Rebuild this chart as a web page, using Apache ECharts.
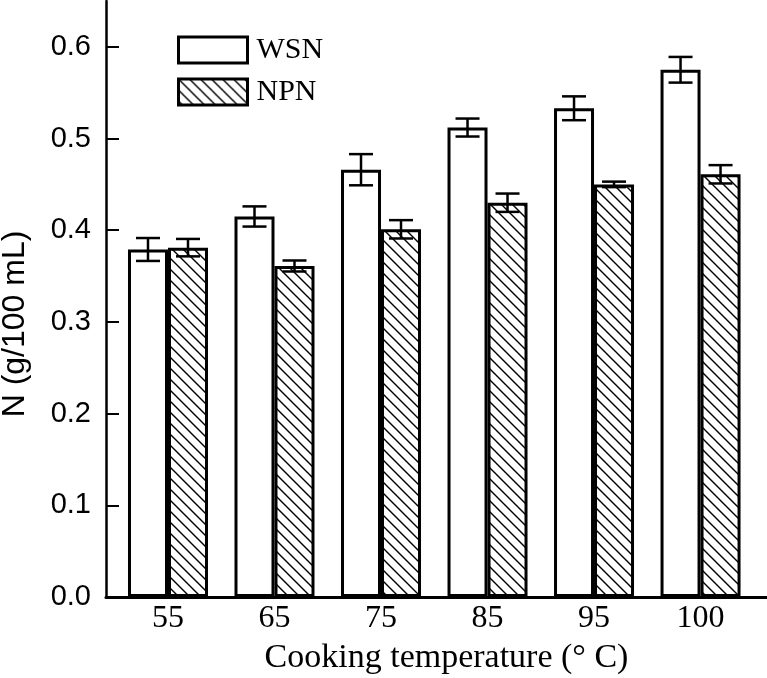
<!DOCTYPE html>
<html>
<head>
<meta charset="utf-8">
<script src="https://cdn.jsdelivr.net/npm/echarts@6/dist/echarts.min.js"></script>
<style>
html,body{margin:0;padding:0;background:#fff;}
#main{width:767px;height:678px;}
</style>
</head>
<body>
<div id="main"></div>
<script>
// categories and values
var categories = ['55', '65', '75', '85', '95', '100'];
var wsn = [0.379, 0.415, 0.466, 0.512, 0.533, 0.575];
var wsnErr = [0.0125, 0.011, 0.017, 0.0098, 0.013, 0.014];
var npn = [0.381, 0.361, 0.401, 0.430, 0.450, 0.461];
var npnErr = [0.0095, 0.006, 0.010, 0.010, 0.003, 0.010];
var yTicks = [0, 0.1, 0.2, 0.3, 0.4, 0.5, 0.6];
var xPos = [0, 1, 2, 3, 4, 5];

var barW = 40;
var capW = 24;

// hatch pattern (\\\) for NPN
function hatch() {
	var s = 11;
	var c = document.createElement('canvas');
	c.width = s; c.height = s;
	var ctx = c.getContext('2d');
	ctx.fillStyle = '#fff';
	ctx.fillRect(0, 0, s, s);
	ctx.strokeStyle = '#000';
	ctx.lineWidth = 1.4;
	ctx.beginPath();
	ctx.moveTo(-1, -1); ctx.lineTo(s + 1, s + 1);
	ctx.moveTo(-1, s - 1); ctx.lineTo(1, s + 1);
	ctx.moveTo(s - 1, -1); ctx.lineTo(s + 1, 1);
	ctx.stroke();
	return c;
}

function pairs(vals) {
	var out = [];
	for (var i = 0; i < vals.length; i++) out.push([xPos[i], vals[i]]);
	return out;
}
function errData(vals, errs) {
	var out = [];
	for (var i = 0; i < vals.length; i++) out.push([xPos[i], vals[i], errs[i]]);
	return out;
}

function errRender(shift) {
	return function (params, api) {
		var x = api.value(0), v = api.value(1), e = api.value(2);
		var hi = api.coord([x, v + e]);
		var lo = api.coord([x, v - e]);
		var cx = hi[0] + shift;
		var st = { stroke: '#000', lineWidth: 2.5 };
		return {
			type: 'group',
			children: [
				{ type: 'line', shape: { x1: cx, y1: hi[1], x2: cx, y2: lo[1] }, style: st },
				{ type: 'line', shape: { x1: cx - capW / 2, y1: hi[1], x2: cx + capW / 2, y2: hi[1] }, style: st },
				{ type: 'line', shape: { x1: cx - capW / 2, y1: lo[1], x2: cx + capW / 2, y2: lo[1] }, style: st }
			]
		};
	};
}

var myChart = echarts.init(document.getElementById('main'));
var option = {
	animation: false,
	backgroundColor: '#fff',
	grid: { left: 106, right: 0, top: 1, bottom: 81, outerBoundsMode: 'none', containLabel: false },
	legend: {
		orient: 'vertical',
		left: 177,
		top: 35,
		padding: 0,
		itemWidth: 69,
		itemHeight: 26,
		itemGap: 12,
		icon: 'rect',
		itemStyle: { borderWidth: 3, borderColor: '#000' },
		textStyle: { fontFamily: 'Liberation Serif', fontSize: 30, color: '#000', padding: [0, 0, 0, 4] },
		data: ['WSN', 'NPN']
	},
	xAxis: {
		type: 'value',
		min: -0.582,
		max: 5.624,
		name: 'Cooking temperature (\u00b0 C)',
		nameLocation: 'middle',
		nameGap: 44,
		nameTextStyle: { fontFamily: 'Liberation Serif', fontSize: 34, color: '#000', padding: [0, 0, 0, 20] },
		splitLine: { show: false },
		axisLine: { onZero: false, lineStyle: { color: '#000', width: 3 } },
		axisTick: { show: false },
		axisLabel: {
			customValues: xPos,
			margin: 6,
			fontFamily: 'Liberation Serif',
			fontSize: 32,
			color: '#000',
			formatter: function (v) { return categories[Math.round(v)]; }
		}
	},
	yAxis: {
		type: 'value',
		min: 0,
		max: 0.65,
		name: 'N (g/100 mL)',
		nameLocation: 'middle',
		nameGap: 75,
		nameRotate: 90,
		nameTextStyle: { fontFamily: 'Liberation Sans', fontSize: 32, color: '#000', padding: [0, 50, 0, 0] },
		splitLine: { show: false },
		axisLine: { show: true, onZero: false, lineStyle: { color: '#000', width: 2.5 } },
		axisTick: { show: true, inside: true, length: 13, customValues: yTicks, lineStyle: { color: '#000', width: 2 } },
		axisLabel: {
			customValues: yTicks,
			margin: 15,
			fontFamily: 'Liberation Sans',
			fontSize: 29,
			color: '#000',
			formatter: function (v) { return v.toFixed(1); }
		}
	},
	series: [
		{
			name: 'WSN',
			type: 'bar',
			barWidth: barW,
			barGap: '0%',
			itemStyle: { color: '#fff', borderColor: '#000', borderWidth: 3 },
			data: pairs(wsn)
		},
		{
			name: 'NPN',
			type: 'bar',
			barWidth: barW,
			barGap: '0%',
			itemStyle: { color: { image: hatch(), repeat: 'repeat' }, borderColor: '#000', borderWidth: 3 },
			data: pairs(npn)
		},
		{
			type: 'custom',
			renderItem: errRender(-barW / 2),
			z: 5,
			data: errData(wsn, wsnErr)
		},
		{
			type: 'custom',
			renderItem: errRender(barW / 2),
			z: 5,
			data: errData(npn, npnErr)
		}
	]
};
myChart.setOption(option);
</script>
</body>
</html>
